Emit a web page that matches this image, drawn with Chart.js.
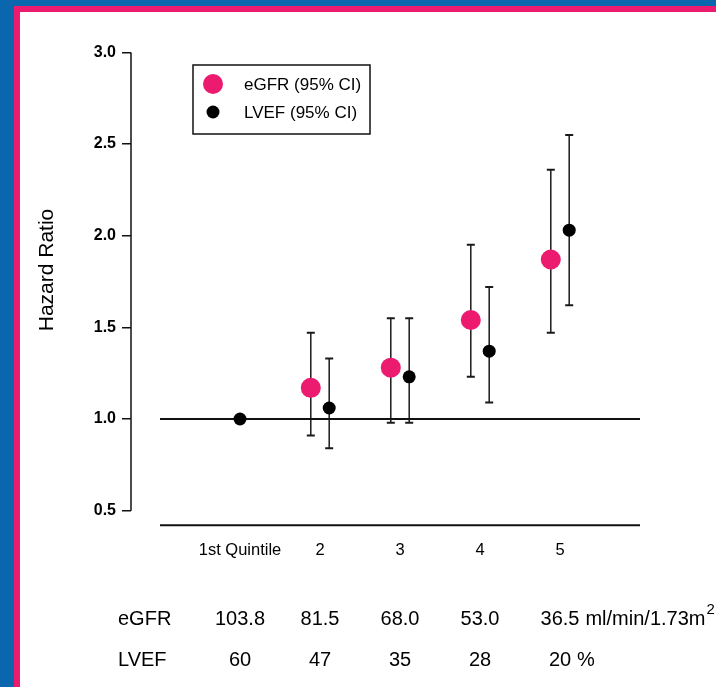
<!DOCTYPE html>
<html>
<head>
<meta charset="utf-8">
<script src="https://cdn.jsdelivr.net/npm/chart.js@4.4.0/dist/chart.umd.min.js"></script>
<style>
  html, body { margin: 0; padding: 0; }
  body { width: 716px; height: 687px; background: #0a67ae; overflow: hidden; position: relative; }
  .frame { position: absolute; left: 14px; top: 6px; right: 0; bottom: 0; background: #ec1b70; }
  .sheet { position: absolute; left: 20px; top: 12px; width: 696px; height: 675px; background: #fff; }
</style>
</head>
<body>
<div class="frame"></div>
<div class="sheet"><canvas id="hr" width="696" height="675"></canvas></div>
<script>
const quintiles = [1, 2, 3, 4, 5]
const quintileLabels = ['1st Quintile', '2', '3', '4', '5']
const egfrHR = [null, 1.17, 1.28, 1.54, 1.87]
const egfrLow = [null, 0.91, 0.98, 1.23, 1.47]
const egfrHigh = [null, 1.47, 1.55, 1.95, 2.36]
const lvefHR = [1.0, 1.06, 1.23, 1.37, 2.03]
const lvefLow = [null, 0.84, 0.98, 1.09, 1.62]
const lvefHigh = [null, 1.33, 1.55, 1.72, 2.55]
const egfrValues = ['103.8', '81.5', '68.0', '53.0', '36.5']
const lvefValues = ['60', '47', '35', '28', '20']
const yTicks = [0.5, 1.0, 1.5, 2.0, 2.5, 3.0]
const referenceHR = 1.0
const baselineHR = 0.42

const PINK = '#ec1b70'
const FONT = '"Liberation Sans", Arial, Helvetica, sans-serif'
const dodge = 0.115

// side-by-side points when both series have a value in the quintile
function buildPoints(values, low, high, other, sign) {
  const pts = []
  values.forEach((v, i) => {
    if (v == null) return
    const shift = other[i] != null ? sign * dodge : 0
    pts.push({ x: quintiles[i] + shift, y: v, lo: low[i], hi: high[i] })
  })
  return pts
}

const egfrPoints = buildPoints(egfrHR, egfrLow, egfrHigh, lvefHR, -1)
const lvefPoints = buildPoints(lvefHR, lvefLow, lvefHigh, egfrHR, 1)

const errorBars = {
  id: 'errorBars',
  beforeDatasetsDraw(chart) {
    const { ctx, scales: { x, y } } = chart
    ctx.save()
    ctx.strokeStyle = '#1a1a1a'
    chart.data.datasets.forEach(ds => {
      if (!ds.errorBars) return
      ds.data.forEach(p => {
        if (p.lo == null) return
        const px = x.getPixelForValue(p.x)
        const top = y.getPixelForValue(p.hi)
        const bot = y.getPixelForValue(p.lo)
        ctx.lineWidth = 1.5
        ctx.beginPath()
        ctx.moveTo(px, top)
        ctx.lineTo(px, bot)
        ctx.stroke()
        ctx.lineWidth = 2
        ctx.beginPath()
        ctx.moveTo(px - 4, top); ctx.lineTo(px + 4, top)
        ctx.moveTo(px - 4, bot); ctx.lineTo(px + 4, bot)
        ctx.stroke()
      })
    })
    ctx.restore()
  }
}

const axisLine = {
  id: 'axisLine',
  beforeDatasetsDraw(chart) {
    const { ctx, chartArea, scales: { y } } = chart
    ctx.save()
    ctx.strokeStyle = '#111'
    ctx.lineWidth = 1.5
    ctx.beginPath()
    ctx.moveTo(chartArea.left, y.getPixelForValue(yTicks[yTicks.length - 1]))
    ctx.lineTo(chartArea.left, y.getPixelForValue(yTicks[0]))
    ctx.stroke()
    ctx.restore()
  }
}

const yTitle = {
  id: 'yTitle',
  afterDraw(chart) {
    const { ctx } = chart
    ctx.save()
    ctx.translate(27, 258)
    ctx.rotate(-Math.PI / 2)
    ctx.font = '21px ' + FONT
    ctx.fillStyle = '#000'
    ctx.textAlign = 'center'
    ctx.textBaseline = 'middle'
    ctx.fillText('Hazard Ratio', 0, 0)
    ctx.restore()
  }
}

const boxLegend = {
  id: 'boxLegend',
  afterDraw(chart) {
    const { ctx } = chart
    const items = chart.data.datasets.filter(ds => ds.errorBars)
    ctx.save()
    ctx.strokeStyle = '#111'
    ctx.lineWidth = 1.5
    ctx.strokeRect(173, 53, 177, 69)
    ctx.font = '17px ' + FONT
    ctx.textBaseline = 'middle'
    ctx.fillStyle = '#000'
    items.forEach((ds, i) => {
      const cy = 72 + i * 28
      ctx.beginPath()
      ctx.fillStyle = ds.backgroundColor
      ctx.arc(193, cy, ds.pointRadius, 0, Math.PI * 2)
      ctx.fill()
      ctx.fillStyle = '#000'
      ctx.fillText(ds.label, 224, cy + 1)
    })
    ctx.restore()
  }
}

const valueTable = {
  id: 'valueTable',
  afterDraw(chart) {
    const { ctx, scales: { x } } = chart
    const rows = [
      { name: 'eGFR', values: egfrValues, unit: 'ml/min/1.73m', sup: '2', y: 607 },
      { name: 'LVEF', values: lvefValues, unit: '%', sup: '', y: 648 }
    ]
    ctx.save()
    ctx.fillStyle = '#000'
    ctx.textBaseline = 'middle'
    rows.forEach(r => {
      ctx.font = '20px ' + FONT
      ctx.textAlign = 'left'
      ctx.fillText(r.name, 98, r.y)
      ctx.textAlign = 'center'
      let lastRight = 0
      r.values.forEach((v, i) => {
        const cx = x.getPixelForValue(quintiles[i])
        ctx.fillText(v, cx, r.y)
        lastRight = cx + ctx.measureText(v).width / 2
      })
      ctx.textAlign = 'left'
      const ux = lastRight + 6
      ctx.fillText(r.unit, ux, r.y)
      if (r.sup) {
        const w = ctx.measureText(r.unit).width
        ctx.font = '15px ' + FONT
        ctx.fillText(r.sup, ux + w + 1, r.y - 9)
      }
    })
    ctx.restore()
  }
}

new Chart(document.getElementById('hr'), {
  type: 'scatter',
  data: {
    datasets: [
      {
        label: 'eGFR (95% CI)',
        data: egfrPoints,
        backgroundColor: PINK,
        borderWidth: 0,
        pointRadius: 10,
        pointHoverRadius: 10,
        errorBars: true
      },
      {
        label: 'LVEF (95% CI)',
        data: lvefPoints,
        backgroundColor: '#000',
        borderWidth: 0,
        pointRadius: 6.5,
        pointHoverRadius: 6.5,
        errorBars: true
      },
      {
        label: 'reference',
        data: [{ x: 0, y: referenceHR }, { x: 6, y: referenceHR }],
        showLine: true,
        borderColor: '#111',
        borderWidth: 2,
        pointRadius: 0
      },
      {
        label: 'baseline',
        data: [{ x: 0, y: baselineHR }, { x: 6, y: baselineHR }],
        showLine: true,
        borderColor: '#111',
        borderWidth: 2,
        pointRadius: 0
      }
    ]
  },
  options: {
    responsive: false,
    animation: false,
    layout: { padding: { top: 40.4, right: 76, bottom: 118, left: 0 } },
    plugins: {
      legend: { display: false },
      tooltip: { enabled: false }
    },
    scales: {
      x: {
        type: 'linear',
        min: -0.3625,
        max: 6,
        grid: { display: false, drawTicks: false },
        border: { display: false },
        afterBuildTicks: (scale) => { scale.ticks = quintiles.map(v => ({ value: v })) },
        afterFit: (scale) => { scale.height = 40 },
        ticks: {
          autoSkip: false,
          maxRotation: 0,
          minRotation: 0,
          padding: 12,
          color: '#000',
          font: { family: FONT, size: 16.5 },
          callback: (value) => quintileLabels[quintiles.indexOf(value)]
        }
      },
      y: {
        min: 0.4,
        max: 3.0,
        grid: { drawOnChartArea: false, drawTicks: true, tickLength: 9, color: '#111', lineWidth: 1.5 },
        border: { display: false },
        afterBuildTicks: (scale) => { scale.ticks = yTicks.map(v => ({ value: v })) },
        afterFit: (scale) => { scale.width = 111 },
        ticks: {
          padding: 6,
          color: '#000',
          font: { family: FONT, size: 16, weight: 'bold' },
          callback: (value) => value.toFixed(1)
        }
      }
    }
  },
  plugins: [errorBars, axisLine, yTitle, boxLegend, valueTable]
})
</script>
</body>
</html>
